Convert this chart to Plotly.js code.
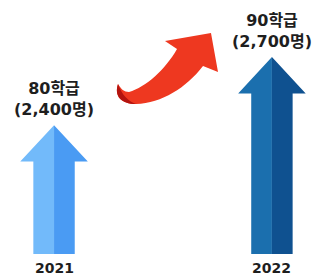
<!DOCTYPE html>
<html>
<head>
<meta charset="utf-8">
<script src="https://cdn.plot.ly/plotly-3.0.1.min.js"></script>
<style>html,body{margin:0;padding:0;background:#fff;}#chart{width:319px;height:277px;}</style>
</head>
<body>
<div id="chart"></div>
<script>
// ---- data ----
const years = ['2021', '2022'];
const classes = [80, 90];          // 학급 수
const students = [2400, 2700];     // 학생 수

// ---- styling / geometry (layout constants) ----
const base = 1831;                 // arrow foot on the value axis
const headH = 160;                 // head height in value units
const headHW = 0.155;              // head half width in category units
const shaftHW = 0.095;             // shaft half width in category units
const lightCols = ['#72bafa', '#1b6fae'];
const darkCols  = ['#4a9bf3', '#0f5190'];

function fmt(n) { return String(n).replace(/\B(?=(\d{3})+(?!\d))/g, ','); }

const traces = [];
students.forEach((v, i) => {
  const cx = i;
  const hb = v - headH;
  traces.push({
    type: 'scatter', mode: 'lines', line: {width: 0}, fill: 'toself',
    fillcolor: lightCols[i], hoverinfo: 'skip', showlegend: false,
    x: [cx, cx - headHW, cx - shaftHW, cx - shaftHW, cx, cx],
    y: [v, hb, hb, base, base, v]
  });
  traces.push({
    type: 'scatter', mode: 'lines', line: {width: 0}, fill: 'toself',
    fillcolor: darkCols[i], hoverinfo: 'skip', showlegend: false,
    x: [cx, cx + headHW, cx + shaftHW, cx + shaftHW, cx, cx],
    y: [v, hb, hb, base, base, v]
  });
});

const font = {family: 'DejaVu Sans, Noto Sans CJK KR, sans-serif', weight: 'bold', color: '#1e1e1e'};
const annotations = [];
students.forEach((v, i) => {
  annotations.push({
    x: i, y: v, xref: 'x', yref: 'y', showarrow: false,
    yanchor: 'bottom', yshift: 4,
    text: classes[i] + '학급<br>(' + fmt(v) + '명)',
    font: Object.assign({size: 16}, font)
  });
  annotations.push({
    x: i, y: base, xref: 'x', yref: 'y', showarrow: false,
    yanchor: 'middle', yshift: -14, borderpad: 0,
    text: years[i],
    font: Object.assign({size: 14}, font)
  });
});

// decorative red curved arrow (pixel path -> paper coords)
const W = 319, H = 277;
function P(x, y) { return (x / W).toFixed(4) + ',' + (1 - y / H).toFixed(4); }
const redPath = 'M' + P(118, 84) +
  ' C' + P(114, 96) + ' ' + P(121, 104) + ' ' + P(136, 104) +
  ' C' + P(162, 103) + ' ' + P(186, 88) + ' ' + P(203, 66) +
  ' L' + P(218, 72) + ' L' + P(211, 33) + ' L' + P(165, 41) + ' L' + P(177, 49) +
  ' C' + P(165, 70) + ' ' + P(146, 87) + ' ' + P(129, 92) +
  ' C' + P(124, 92) + ' ' + P(121, 89) + ' ' + P(118, 84) + ' Z';
const curlPath = 'M' + P(118, 84) +
  ' C' + P(114, 96) + ' ' + P(121, 104) + ' ' + P(136, 104) +
  ' C' + P(128, 101) + ' ' + P(122, 95) + ' ' + P(118, 84) + ' Z';

const layout = {
  width: 319, height: 277,
  margin: {l: 0, r: 0, t: 0, b: 0},
  paper_bgcolor: '#ffffff', plot_bgcolor: '#ffffff',
  xaxis: {range: [-0.248, 1.216], visible: false, fixedrange: true},
  yaxis: {range: [1730, 2952], visible: false, fixedrange: true},
  showlegend: false,
  annotations: annotations,
  shapes: [
    {type: 'path', xref: 'paper', yref: 'paper', path: redPath, fillcolor: '#ee3820', line: {width: 0}},
    {type: 'path', xref: 'paper', yref: 'paper', path: curlPath, fillcolor: '#b3140f', line: {width: 0}}
  ]
};

Plotly.newPlot('chart', traces, layout, {staticPlot: true, displayModeBar: false});
</script>
</body>
</html>
